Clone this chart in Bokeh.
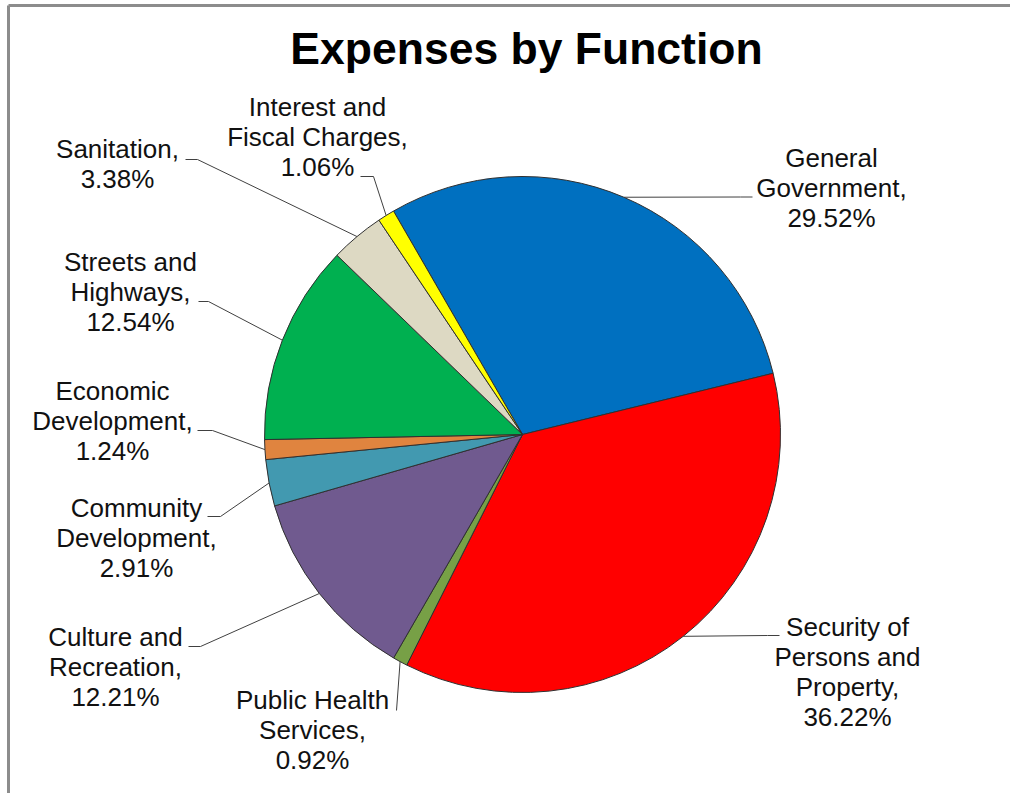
import numpy as np
from bokeh.plotting import figure
from bokeh.models import Range1d
from bokeh.embed import file_html
from bokeh.resources import INLINE
from bokeh.core.properties import value

# ---------------- data ----------------
categories = ["General Government", "Security of Persons and Property",
              "Public Health Services", "Culture and Recreation",
              "Community Development", "Economic Development",
              "Streets and Highways", "Sanitation",
              "Interest and Fiscal Charges"]
shares = [29.52, 36.22, 0.92, 12.21, 2.91, 1.24, 12.54, 3.38, 1.06]
label_lines = [["General", "Government,"],
               ["Security of", "Persons and", "Property,"],
               ["Public Health", "Services,"],
               ["Culture and", "Recreation,"],
               ["Community", "Development,"],
               ["Economic", "Development,"],
               ["Streets and", "Highways,"],
               ["Sanitation,"],
               ["Interest and", "Fiscal Charges,"]]
colors = ["#0070C0", "#FF0000", "#77A046", "#705A8F", "#4299B0",
          "#E0843F", "#00B050", "#DDD9C3", "#FFFF00"]
title = "Expenses by Function"

# ---------------- layout (pixels, measured from top-left) ----------------
W, H = 1010, 793
CX, CY, R = 522, 434, 258
FIRST_ANGLE = -30.0          # clockwise from 12 o'clock, degrees
FONT = "Liberation Sans"
LABEL_PX = 26
TITLE_PX = 44.5
LINE_GAP = 30
BASE_SHIFT = 0.38            # baseline correction, fraction of font size

label_cx = [831, 847, 312, 115, 136, 112, 130, 117, 317]
label_base = [167, 636, 709, 646, 517, 400, 271, 158, 116]
leader_elbow = [(740, 196.5), (767, 635), (396, 710), (200, 646),
                (220, 516), (212, 430), (208, 301), (197, 159), (373, 176)]
leader_end = [(752, 196.5), (779, 635), (396, 710), (188, 646),
              (207, 516), (197, 430), (198, 301), (185, 159), (360, 176)]


def fy(y):
    return H - y


p = figure(width=W, height=H, output_backend="svg", toolbar_location=None,
           x_range=Range1d(0, W), y_range=Range1d(0, H), min_border=0)
p.axis.visible = False
p.grid.visible = False
p.outline_line_color = None
p.background_fill_color = "white"
p.border_fill_color = "white"

# border of the chart area
p.line([8, W + 20], [fy(5), fy(5)], line_color="#8c8c8c", line_width=3)
p.line([8, 8], [fy(5), -20], line_color="#8c8c8c", line_width=3)

# ---------------- pie ----------------
vals = np.array(shares, dtype=float)
frac = vals / vals.sum()
cum = np.concatenate([[0.0], np.cumsum(frac)])
theta1 = np.radians(FIRST_ANGLE) + 2 * np.pi * cum[:-1]   # clockwise from top
theta2 = np.radians(FIRST_ANGLE) + 2 * np.pi * cum[1:]
start = np.pi / 2 - theta2
end = np.pi / 2 - theta1

p.wedge(x=CX, y=fy(CY), radius=R, start_angle=start, end_angle=end,
        direction="anticlock", fill_color=colors, line_color="#303030",
        line_width=1)

# ---------------- leader lines ----------------
mid = (theta1 + theta2) / 2
ex = CX + R * np.sin(mid)
ey = CY - R * np.cos(mid)
xs, ys = [], []
for i in range(len(shares)):
    xs.append([ex[i], leader_elbow[i][0], leader_end[i][0]])
    ys.append([fy(ey[i]), fy(leader_elbow[i][1]), fy(leader_end[i][1])])
p.multi_line(xs, ys, line_color="#404040", line_width=1)

# ---------------- labels ----------------
tx, ty, tt = [], [], []
for i, name_lines in enumerate(label_lines):
    lines = name_lines + [f"{shares[i]:.2f}%"]
    for k, ln in enumerate(lines):
        tx.append(label_cx[i])
        ty.append(fy(label_base[i] + k * LINE_GAP - BASE_SHIFT * LABEL_PX))
        tt.append(ln)
p.text(x=tx, y=ty, text=tt, text_align="center", text_baseline="alphabetic",
       text_font=value(FONT), text_font_size=f"{LABEL_PX}px",
       text_color="#111111")

# ---------------- title ----------------
p.text(x=[526], y=[fy(65 - BASE_SHIFT * TITLE_PX)], text=[title],
       text_align="center", text_baseline="alphabetic",
       text_font=value(FONT), text_font_size=f"{TITLE_PX}px",
       text_font_style="bold", text_color="#000000")

open("out.html", "w").write(file_html(p, INLINE))
